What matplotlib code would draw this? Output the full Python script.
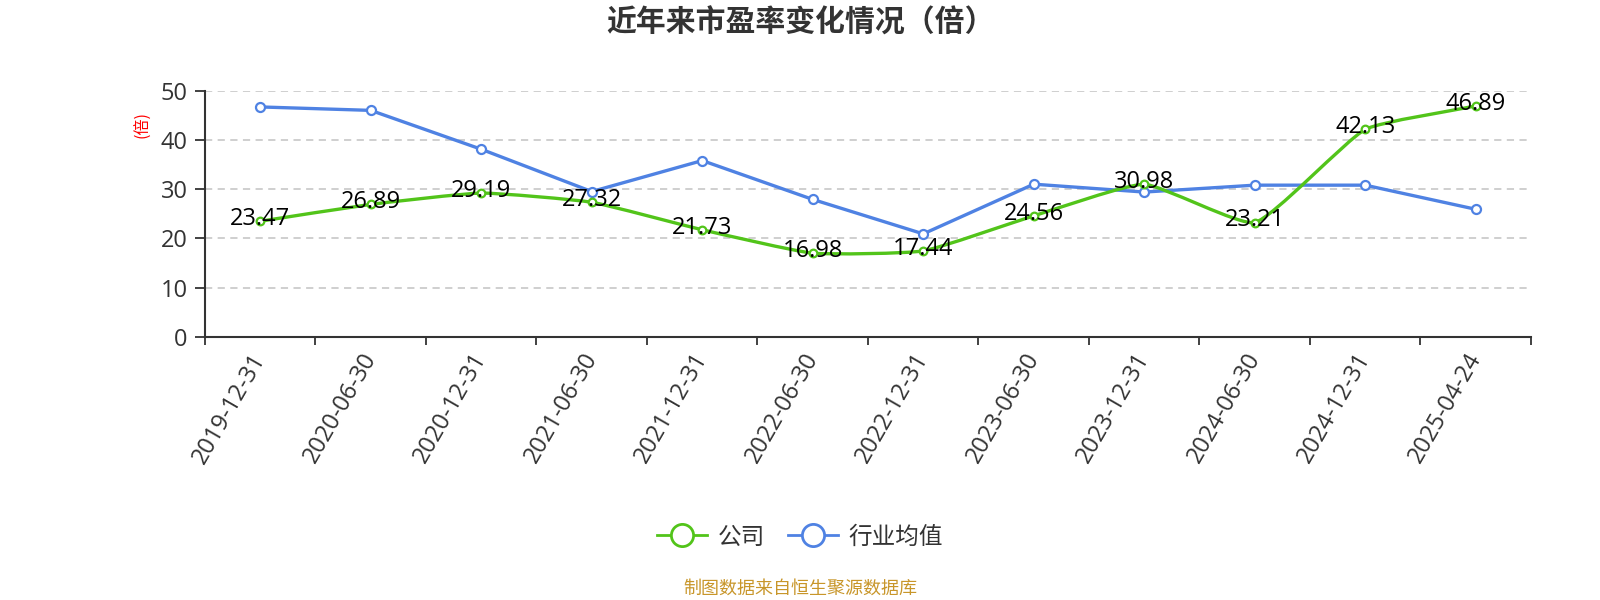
import matplotlib
matplotlib.use("Agg")
import matplotlib.pyplot as plt
import numpy as np
from matplotlib.path import Path
from matplotlib.patches import PathPatch
from matplotlib.lines import Line2D

plt.rcParams['font.family'] = ['Open Sans', 'Noto Sans CJK SC', 'DejaVu Sans']
CJK = ['Noto Sans CJK SC', 'DejaVu Sans']

categories = ["2019-12-31", "2020-06-30", "2020-12-31", "2021-06-30", "2021-12-31",
              "2022-06-30", "2022-12-31", "2023-06-30", "2023-12-31", "2024-06-30",
              "2024-12-31", "2025-04-24"]
company = [23.47, 26.89, 29.19, 27.32, 21.73, 16.98, 17.44, 24.56, 30.98, 23.21, 42.13, 46.89]
industry = [46.7, 46.0, 38.1, 29.5, 35.8, 27.9, 20.9, 31.0, 29.4, 30.8, 30.8, 25.9]
yticks = [0, 10, 20, 30, 40, 50]

GREEN = '#52c41a'
BLUE = '#4f82e3'
AXC = '#333333'
FS = 17

fig = plt.figure(figsize=(16, 6), dpi=100)
ax = fig.add_axes([205/1600, 1-336.7/600, (1531-205)/1600, (336.7-90.7)/600])
x = np.arange(len(categories))
ax.set_xlim(-0.5, len(categories)-0.5)
ax.set_ylim(0, 50)

# grid
for v in yticks[1:]:
    ax.axhline(v, color='#cccccc', lw=1.3, ls=(0, (4, 3)), zorder=1)

# industry line (straight)
ax.plot(x, industry, color=BLUE, lw=2.4, zorder=3, solid_capstyle='round')
ax.plot(x, industry, ls='none', marker='o', ms=6.5, mfc='white', mec=BLUE, mew=1.6, zorder=4)

# company line (lightly smoothed, in display coords)
fig.canvas.draw()
pts = ax.transData.transform(np.column_stack([x, company]))
smooth = 0.15
n = len(pts)
verts = [pts[0]]
codes = [Path.MOVETO]
cps = []
for i in range(n):
    p = pts[i]
    prev = pts[i-1] if i > 0 else p
    nxt = pts[i+1] if i < n-1 else p
    v = (nxt - prev) * smooth
    d0 = np.hypot(*(p - prev))
    d1 = np.hypot(*(p - nxt))
    s = d0 + d1
    if s != 0:
        d0 /= s
        d1 /= s
    cps.append((p - v * d0, p + v * d1))
for i in range(n-1):
    verts += [cps[i][1], cps[i+1][0], pts[i+1]]
    codes += [Path.CURVE4]*3
verts = ax.transData.inverted().transform(np.array(verts))
patch = PathPatch(Path(verts, codes), fill=False, edgecolor=GREEN, lw=2.4, zorder=3)
ax.add_patch(patch)
ax.plot(x, company, ls='none', marker='o', ms=5.5, mfc='white', mec=GREEN, mew=1.6, zorder=4)

# data labels
for xi, v in zip(x, company):
    ax.annotate(f"{v:.2f}", (xi, v), xytext=(0, 1.5), textcoords='offset points',
                ha='center', va='center', fontsize=FS, color='black', zorder=6)

# axes styling
for s in ['top', 'right']:
    ax.spines[s].set_visible(False)
for s in ['left', 'bottom']:
    ax.spines[s].set_color(AXC)
    ax.spines[s].set_linewidth(1.5)
ax.set_yticks(yticks)
ax.set_yticklabels([str(v) for v in yticks])
ax.tick_params(axis='y', length=7.5, width=1.3, color=AXC, pad=5, labelsize=FS, labelcolor='#333333')
ax.set_xticks(x)
ax.set_xticklabels(categories, rotation=60, ha='right', va='center', rotation_mode='anchor')
ax.tick_params(axis='x', which='major', length=0, pad=13, labelsize=FS, labelcolor='#333333')
ax.set_xticks(np.arange(-0.5, len(categories)), minor=True)
ax.tick_params(axis='x', which='minor', length=6, width=1.3, color=AXC)

fig.text(143/1600, 1-125/600, "(倍)", rotation=90, color='red', fontsize=11.5, ha='center', va='center',
         family=CJK)
fig.text(0.5, 1-22.5/600, "近年来市盈率变化情况（倍）", fontsize=21.5, fontweight='bold', color='#333333',
         ha='center', va='center', family=CJK)

handles = [Line2D([], [], color=GREEN, lw=2, marker='o', ms=16, mfc='white', mec=GREEN, mew=2),
           Line2D([], [], color=BLUE, lw=2, marker='o', ms=16, mfc='white', mec=BLUE, mew=2)]
fig.legend(handles, ["公司", "行业均值"], loc='center', bbox_to_anchor=(0.5, 1-537/600), ncol=2,
           frameon=False, prop={'family': CJK, 'size': 17}, handlelength=2.1, handletextpad=0.45,
           columnspacing=1.0, labelcolor='#333333')

fig.text(0.5, 1-589/600, "制图数据来自恒生聚源数据库", fontsize=13, color='#c8962a', ha='center', va='center',
         family=CJK)

fig.savefig("out.png", dpi=100)
